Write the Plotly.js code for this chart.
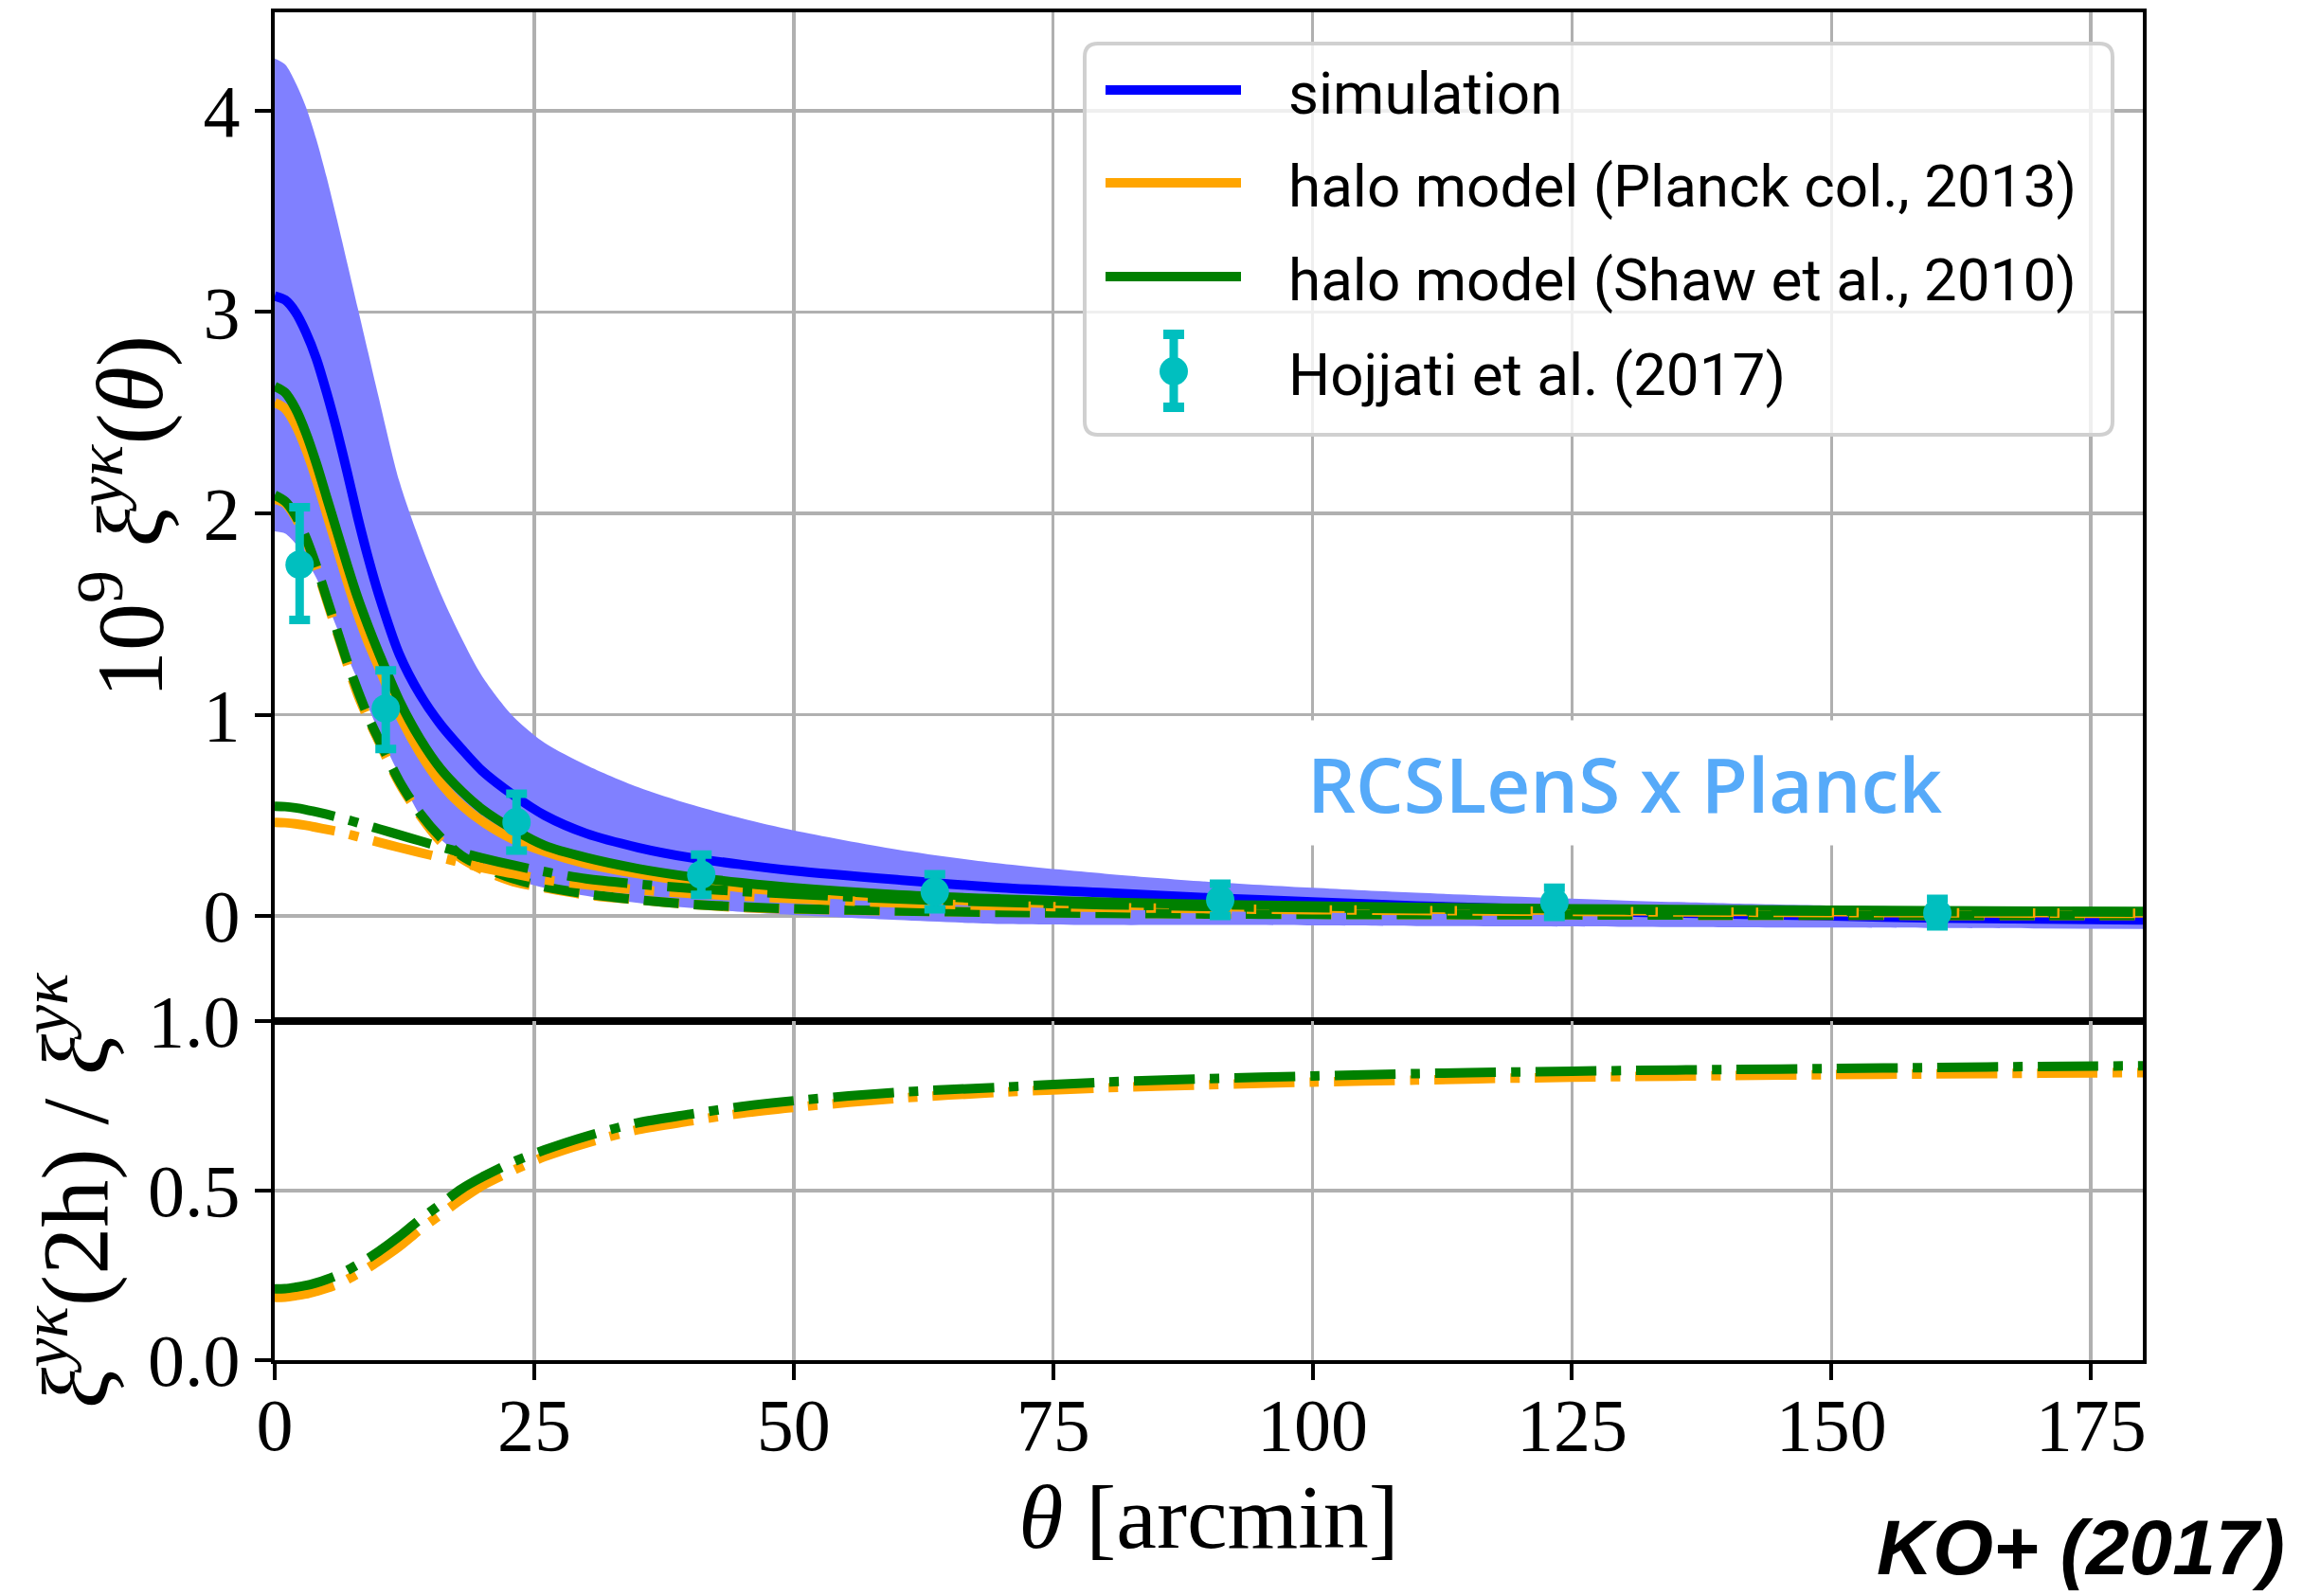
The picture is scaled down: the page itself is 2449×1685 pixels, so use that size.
<!DOCTYPE html>
<html><head><meta charset="utf-8">
<script src="https://cdn.plot.ly/plotly-3.0.1.min.js"></script>
<style>html,body{margin:0;padding:0;background:#fff;}#chart{width:2449px;height:1685px;}</style>
</head><body><div id="chart"></div>
<script>
// ---------- data ----------
const theta = [0,1,2,3,4,5,6,7,8,9,10,12,14,16,18,20,23,26,30,35,40,45,50,60,70,80,90,100,110,120,130,140,150,160,170,180];

const simLow  = [1.91,1.90,1.85,1.77,1.68,1.56,1.43,1.29,1.17,1.04,0.92,0.70,0.50,0.38,0.30,0.24,0.18,0.14,0.10,0.065,0.04,0.02,0.005,-0.02,-0.04,-0.045,-0.045,-0.047,-0.05,-0.052,-0.054,-0.056,-0.058,-0.06,-0.062,-0.064];
const simHigh = [4.26,4.23,4.14,4.02,3.86,3.67,3.46,3.24,3.02,2.80,2.58,2.16,1.86,1.60,1.38,1.19,0.99,0.86,0.75,0.64,0.555,0.485,0.425,0.33,0.26,0.21,0.17,0.14,0.115,0.095,0.077,0.063,0.052,0.045,0.040,0.037];
const simulation = [3.08,3.06,3.00,2.90,2.77,2.60,2.41,2.20,1.98,1.78,1.60,1.30,1.10,0.95,0.83,0.72,0.60,0.50,0.41,0.34,0.29,0.255,0.225,0.18,0.14,0.115,0.09,0.07,0.05,0.035,0.02,0.01,0.0,-0.01,-0.015,-0.02];

const planckTotal = [2.55,2.52,2.44,2.32,2.17,2.00,1.83,1.66,1.50,1.36,1.24,1.00,0.81,0.66,0.55,0.47,0.38,0.32,0.26,0.21,0.17,0.14,0.12,0.09,0.07,0.056,0.047,0.04,0.034,0.03,0.026,0.023,0.021,0.019,0.017,0.015];
const planck1h   = [2.07,2.05,1.98,1.87,1.73,1.57,1.41,1.25,1.10,0.98,0.87,0.66,0.50,0.37,0.285,0.23,0.17,0.14,0.105,0.08,0.058,0.042,0.034,0.025,0.019,0.014,0.011,0.009,0.007,0.006,0.005,0.004,0.004,0.003,0.003,0.002];
const planck2h   = [0.465,0.463,0.458,0.45,0.44,0.43,0.42,0.407,0.394,0.38,0.367,0.34,0.315,0.29,0.265,0.24,0.21,0.18,0.155,0.13,0.112,0.098,0.086,0.065,0.051,0.042,0.036,0.031,0.027,0.024,0.021,0.019,0.017,0.016,0.014,0.013];

const shawTotal = [2.63,2.60,2.52,2.40,2.25,2.08,1.91,1.74,1.58,1.44,1.31,1.07,0.88,0.73,0.62,0.53,0.43,0.35,0.29,0.235,0.195,0.165,0.14,0.105,0.084,0.068,0.057,0.049,0.043,0.038,0.034,0.031,0.028,0.026,0.024,0.022];
const shaw1h   = [2.09,2.06,1.99,1.88,1.74,1.58,1.42,1.26,1.12,0.99,0.88,0.67,0.51,0.39,0.30,0.245,0.185,0.145,0.11,0.08,0.058,0.045,0.036,0.025,0.018,0.013,0.01,0.008,0.007,0.006,0.005,0.004,0.004,0.003,0.003,0.003];
const shaw2h   = [0.545,0.543,0.537,0.528,0.517,0.505,0.492,0.478,0.463,0.448,0.433,0.403,0.373,0.343,0.315,0.288,0.252,0.22,0.185,0.158,0.138,0.122,0.108,0.085,0.068,0.056,0.047,0.041,0.036,0.032,0.029,0.026,0.024,0.022,0.021,0.019];

const planckRatio = [0.185,0.186,0.19,0.195,0.203,0.212,0.223,0.238,0.255,0.272,0.292,0.335,0.385,0.43,0.475,0.515,0.56,0.60,0.64,0.68,0.705,0.728,0.745,0.772,0.79,0.803,0.812,0.82,0.826,0.832,0.836,0.839,0.842,0.844,0.846,0.848];
const shawRatio   = [0.21,0.211,0.215,0.22,0.228,0.238,0.25,0.265,0.282,0.30,0.32,0.365,0.415,0.46,0.505,0.54,0.585,0.62,0.66,0.70,0.725,0.748,0.765,0.79,0.805,0.82,0.83,0.838,0.845,0.85,0.854,0.857,0.86,0.863,0.866,0.868];

const obsTheta = [2.4,10.7,23.3,41.1,63.6,91.1,123.3,160.2];
const obsValue = [1.745,1.03,0.466,0.205,0.12,0.08,0.067,0.014];
const obsErrPlus  = [0.285,0.19,0.141,0.10,0.087,0.08,0.073,0.071];
const obsErrMinus = [0.275,0.20,0.141,0.10,0.087,0.08,0.072,0.066];

const xTicks = [0,25,50,75,100,125,150,175];
const xTickLabels = ['0','25','50','75','100','125','150','175'];
const yTicksTop = [0,1,2,3,4];
const yTickLabelsTop = ['0','1','2','3','4'];
const yTicksBottom = [0,0.5,1];
const yTickLabelsBottom = ['0.0','0.5','1.0'];

const legendLabels = ['simulation','halo model (Planck col., 2013)','halo model (Shaw et al., 2010)','Hojjati et al. (2017)'];

// ---------- styles ----------
const BLUE='#0000ff', ORANGE='#ffa500', GREEN='#008000', CYAN='#00bfbf', BAND='#8080ff';
const LW=10;
const DASH='37px,16px', DASHDOT='64px,16px,10px,16px';
const SERIF='Liberation Serif, DejaVu Serif, serif';

function line(y, color, dash, xa, ya, name){
  return {x: theta, y: y, type:'scatter', mode:'lines', name: name,
    xaxis: xa||'x', yaxis: ya||'y', showlegend:false, hoverinfo:'skip',
    line:{color:color, width:LW, dash: dash||'solid', shape:'spline', smoothing:0.8}};
}

const traces = [
  {x: theta, y: simLow, type:'scatter', mode:'lines', line:{width:0, shape:'spline', smoothing:0.8}, showlegend:false, hoverinfo:'skip', name:'sim low'},
  {x: theta, y: simHigh, type:'scatter', mode:'lines', fill:'tonexty', fillcolor:BAND, line:{width:0, shape:'spline', smoothing:0.8}, showlegend:false, hoverinfo:'skip', name:'sim high'},
  line(simulation, BLUE, 'solid', 'x','y','simulation'),
  line(planckTotal, ORANGE, 'solid', 'x','y','halo model (Planck col., 2013)'),
  line(shawTotal, GREEN, 'solid', 'x','y','halo model (Shaw et al., 2010)'),
  line(planck1h, ORANGE, DASH, 'x','y','Planck 1h'),
  line(shaw1h, GREEN, DASH, 'x','y','Shaw 1h'),
  line(planck2h, ORANGE, DASHDOT, 'x','y','Planck 2h'),
  line(shaw2h, GREEN, DASHDOT, 'x','y','Shaw 2h'),
  {x: obsTheta, y: obsValue, type:'scatter', mode:'markers', name:'Hojjati et al. (2017)', showlegend:false,
   marker:{size:30, color:CYAN, line:{width:0}},
   error_y:{type:'data', symmetric:false, array:obsErrPlus, arrayminus:obsErrMinus, color:CYAN, thickness:9, width:11}},
  line(planckRatio, ORANGE, DASHDOT, 'x2','y2','Planck ratio'),
  line(shawRatio, GREEN, DASHDOT, 'x2','y2','Shaw ratio')
];

// ---------- geometry helpers (pixel -> paper) ----------
const PL=290, PR=2262, PT=13, PB=1436;
function px(x){ return (x-PL)/(PR-PL); }
function py(y){ return (PB-y)/(PB-PT); }
function roundRect(x0,y0,x1,y1,r){
  return 'M'+px(x0+r)+','+py(y0)+' L'+px(x1-r)+','+py(y0)+' Q'+px(x1)+','+py(y0)+' '+px(x1)+','+py(y0+r)+
    ' L'+px(x1)+','+py(y1-r)+' Q'+px(x1)+','+py(y1)+' '+px(x1-r)+','+py(y1)+
    ' L'+px(x0+r)+','+py(y1)+' Q'+px(x0)+','+py(y1)+' '+px(x0)+','+py(y1-r)+
    ' L'+px(x0)+','+py(y0+r)+' Q'+px(x0)+','+py(y0)+' '+px(x0+r)+','+py(y0)+' Z';
}

const rowY = [95,193,292,391];
const legColors = [BLUE, ORANGE, GREEN];
const shapes = [
  {type:'path', xref:'paper', yref:'paper', path: roundRect(1145,46,2230,459,14),
   fillcolor:'rgba(255,255,255,0.8)', line:{color:'#d0d0d0', width:4}, layer:'above'}
];
legColors.forEach((c,i)=>{
  shapes.push({type:'line', xref:'paper', yref:'paper', x0:px(1167), x1:px(1310), y0:py(rowY[i]), y1:py(rowY[i]), line:{color:c, width:LW}});
});
// errorbar legend symbol
shapes.push({type:'line', xref:'paper', yref:'paper', x0:px(1239), x1:px(1239), y0:py(353), y1:py(430), line:{color:CYAN, width:9}});
shapes.push({type:'line', xref:'paper', yref:'paper', x0:px(1228), x1:px(1250), y0:py(353), y1:py(353), line:{color:CYAN, width:10}});
shapes.push({type:'line', xref:'paper', yref:'paper', x0:px(1228), x1:px(1250), y0:py(430), y1:py(430), line:{color:CYAN, width:10}});
shapes.push({type:'circle', xref:'paper', yref:'paper', x0:px(1224), x1:px(1254), y0:py(377), y1:py(407), fillcolor:CYAN, line:{width:0}});

const annotations = legendLabels.map((t,i)=>({
  text:t, xref:'paper', yref:'paper', x:px(1358), y:py(rowY[i]+4), xanchor:'left', yanchor:'middle',
  showarrow:false, font:{family:'Roboto, DejaVu Sans, sans-serif', size:62, color:'black'}
}));
annotations.push({text:'RCSLenS x Planck', xref:'paper', yref:'paper', x:px(1715), y:py(826), xanchor:'center', yanchor:'middle',
  showarrow:false, bgcolor:'white', borderpad:11, font:{family:'Open Sans, Lato, sans-serif', size:80, color:'#56aaf9', weight:600}});
annotations.push({text:'KO+ (2017)', xref:'paper', yref:'paper', x:px(2196), y:py(1633), xanchor:'center', yanchor:'middle',
  showarrow:false, font:{family:'Liberation Sans, Arial, sans-serif', size:82, color:'black', weight:'bold', style:'italic'}});

const axCommon = {showgrid:true, gridcolor:'#b0b0b0', gridwidth:3.5, showline:true, linecolor:'black', linewidth:4,
  mirror:true, zeroline:false, automargin:false, tickcolor:'black', tickwidth:4, ticklen:17,
  tickfont:{family:SERIF, size:78, color:'black'}};

const layout = {
  width:2449, height:1685,
  margin:{l:PL, r:2449-PR, t:PT, b:1685-PB, pad:0},
  paper_bgcolor:'white', plot_bgcolor:'white', showlegend:false,
  xaxis: Object.assign({}, axCommon, {domain:[0,1], anchor:'y', range:[0,180], tickmode:'array', tickvals:xTicks, ticktext:xTickLabels, showticklabels:false, ticks:''}),
  yaxis: Object.assign({}, axCommon, {domain:[0.2516,1], anchor:'x', range:[-0.522,4.489], tickmode:'array', tickvals:yTicksTop, ticktext:yTickLabelsTop, ticks:'outside',
    title:{text:'10<sup>9</sup> <i>ξ</i><sup><i>yκ</i></sup>(<i>θ</i>)', font:{family:SERIF, size:100, color:'black'}, standoff:10}}),
  xaxis2: Object.assign({}, axCommon, {domain:[0,1], anchor:'y2', range:[0,180], tickmode:'array', tickvals:xTicks, ticktext:xTickLabels, ticks:'outside', ticklabelstandoff:-20,
    title:{text:'<i>θ</i> [arcmin]', font:{family:SERIF, size:96, color:'black'}, standoff:10}}),
  yaxis2: Object.assign({}, axCommon, {domain:[0,0.2516], anchor:'x2', range:[0,1], tickmode:'array', tickvals:yTicksBottom, ticktext:yTickLabelsBottom, ticks:'outside',
    title:{text:'<i>ξ</i><sup><i>yκ</i></sup>(2h) / <i>ξ</i><sup><i>yκ</i></sup>', font:{family:SERIF, size:100, color:'black'}, standoff:10}}),
  shapes: shapes,
  annotations: annotations
};

Plotly.newPlot('chart', traces, layout, {staticPlot:true, displayModeBar:false});
</script>
</body></html>
